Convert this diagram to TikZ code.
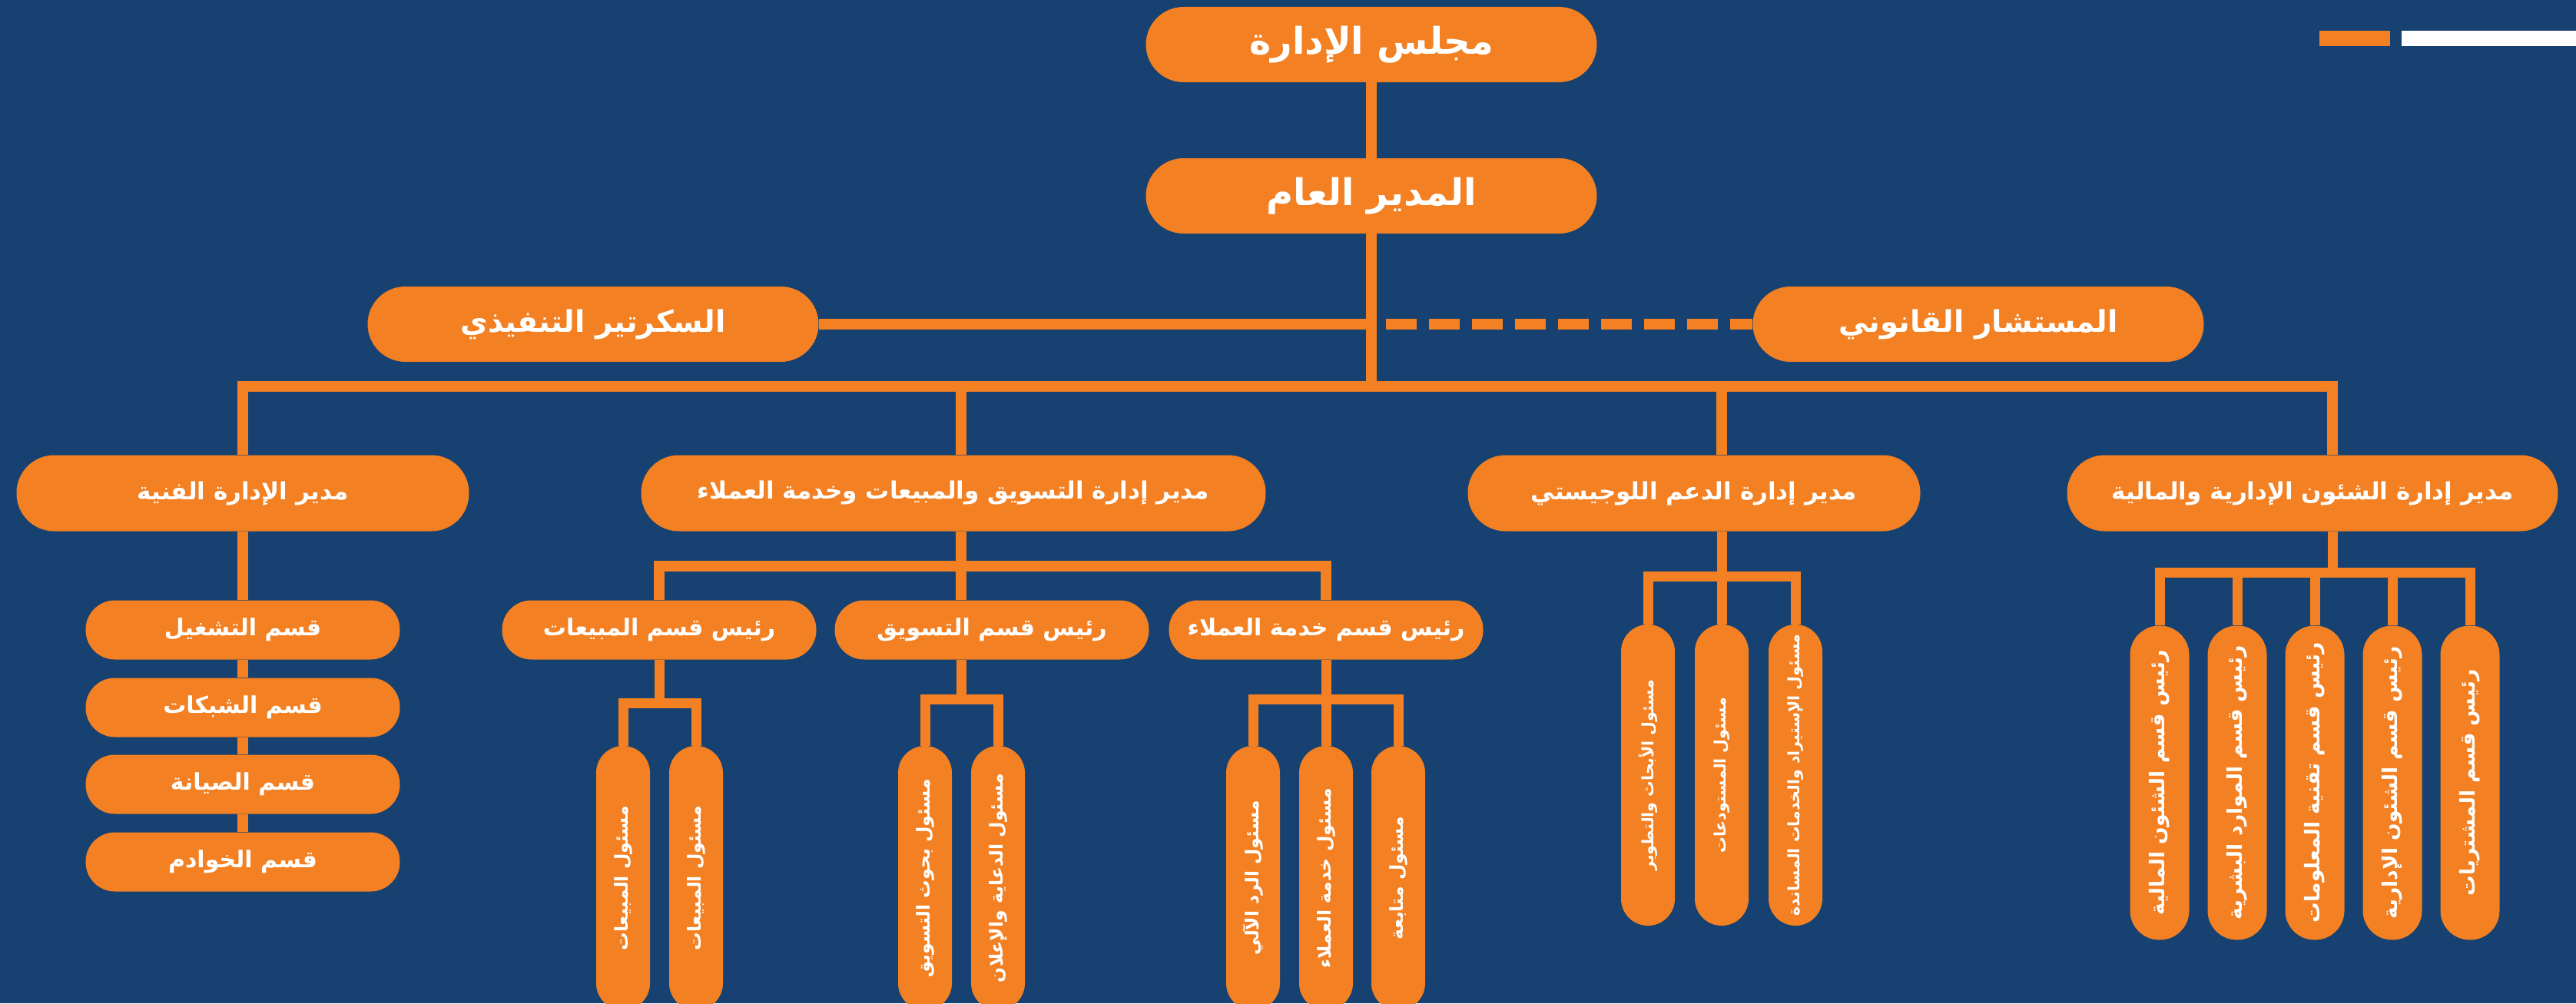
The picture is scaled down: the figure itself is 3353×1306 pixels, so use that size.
\documentclass[tikz,border=0pt]{standalone}
\usepackage{fontspec}
\usepackage{tikz}
\usetikzlibrary{positioning}
\TeXXeTstate=1
\newfontfamily\arabicfont[Script=Arabic]{DejaVu Sans}
\newcommand{\artxt}[1]{\beginR #1\endR}
\definecolor{navy}{RGB}{22,65,112}
\definecolor{tangerine}{RGB}{243,128,34}

\tikzstyle{head} = [rectangle, rounded corners = 49, minimum width = 587,
  minimum height = 98, inner sep = 0, fill = tangerine, text = white,
  font = \arabicfont\bfseries\fontsize{48}{54}\selectfont]
\tikzstyle{aide} = [head, font = \arabicfont\bfseries\fontsize{39}{44}\selectfont]
\tikzstyle{dept} = [
  rectangle, rounded corners = 49,
  minimum width = 589, minimum height = 99, inner sep = 0,
  fill = tangerine, text = white,
  font = \arabicfont\bfseries\fontsize{31}{36}\selectfont
]
\tikzstyle{unit} = [
  rectangle, rounded corners = 38,
  minimum width = 409, minimum height = 77, inner sep = 0,
  fill = tangerine, text = white,
  font = \arabicfont\bfseries\fontsize{30}{35}\selectfont
]
\tikzstyle{pill} = [
  rectangle, rounded corners = 35,
  minimum width = 70, minimum height = 344, inner sep = 0,
  fill = tangerine, text = white,
  font = \arabicfont\bfseries\fontsize{23.5}{27}\selectfont
]
\tikzstyle{link} = [draw = tangerine, line width = 14pt]
\tikzstyle{twig} = [draw = tangerine, line width = 13pt]

\begin{document}
\begin{tikzpicture}[x = 1pt, y = 1pt, node distance = 0]
      \useasboundingbox (0, 0) rectangle (3353, -1306);
      \fill [navy] (0, 0) rectangle (3353, -1306);
      \fill [tangerine] (3019, -40) rectangle (3111, -60);
      \fill [white] (3126, -40) rectangle (3353, -60);

      % board, general manager, secretary, advisor
      \node [head] (head-board) at (1785, -58) {\artxt{مجلس الإدارة}};
      \node [head, below of = head-board, yshift = -197] (head-gm) {\artxt{المدير العام}};
      \node [aide] (head-sec) at (772, -422) {\artxt{السكرتير التنفيذي}};
      \node [aide, right of = head-sec, xshift = 1803] (head-legal) {\artxt{المستشار القانوني}};

      % departments
      \node [dept] (dept-tech) at (316, -642) {\artxt{مدير الإدارة الفنية}};
      \node [dept, right of = dept-tech, xshift = 925, minimum width = 813] (dept-mkt)
        {\artxt{مدير إدارة التسويق والمبيعات وخدمة العملاء}};
      \node [dept, right of = dept-mkt, xshift = 964] (dept-log) {\artxt{مدير إدارة الدعم اللوجيستي}};
      \node [dept, right of = dept-log, xshift = 805, minimum width = 639] (dept-adm)
        {\artxt{مدير إدارة الشئون الإدارية والمالية}};

      % technical sections
      \node [unit] (unit-tech-1) at (316, -820) {\artxt{قسم التشغيل}};
      \node [unit, below of = unit-tech-1, yshift = -101] (unit-tech-2) {\artxt{قسم الشبكات}};
      \node [unit, below of = unit-tech-2, yshift = -100] (unit-tech-3) {\artxt{قسم الصيانة}};
      \node [unit, below of = unit-tech-3, yshift = -101] (unit-tech-4) {\artxt{قسم الخوادم}};

      % marketing heads
      \node [unit] (unit-sales) at (858, -820) {\artxt{رئيس قسم المبيعات}};
      \node [unit, right of = unit-sales, xshift = 433] (unit-mkt) {\artxt{رئيس قسم التسويق}};
      \node [unit, right of = unit-mkt, xshift = 435] (unit-cs) {\artxt{رئيس قسم خدمة العملاء}};

      % officers
      \node [pill] (pill-sales-a) at (811, -1143) {\rotatebox{90}{\artxt{مسئول المبيعات}}};
      \node [pill, right of = pill-sales-a, xshift = 95] (pill-sales-b) {\rotatebox{90}{\artxt{مسئول المبيعات}}};
      \node [pill] (pill-mkt-a) at (1204, -1143) {\rotatebox{90}{\artxt{مسئول بحوث التسويق}}};
      \node [pill, right of = pill-mkt-a, xshift = 95] (pill-mkt-b) {\rotatebox{90}{\artxt{مسئول الدعاية والإعلان}}};
      \node [pill] (pill-cs-a) at (1631, -1143) {\rotatebox{90}{\artxt{مسئول الرد الآلي}}};
      \node [pill, right of = pill-cs-a, xshift = 95] (pill-cs-b) {\rotatebox{90}{\artxt{مسئول خدمة العملاء}}};
      \node [pill, right of = pill-cs-b, xshift = 94] (pill-cs-c) {\rotatebox{90}{\artxt{مسئول متابعة}}};

      % logistics officers
      \node [pill, minimum height = 392, font = \arabicfont\bfseries\fontsize{20.5}{24}\selectfont]
        (pill-log-a) at (2145, -1009) {\rotatebox{90}{\artxt{مسئول الأبحاث والتطوير}}};
      \node [pill, minimum height = 392, font = \arabicfont\bfseries\fontsize{20.5}{24}\selectfont,
        right of = pill-log-a, xshift = 96] (pill-log-b) {\rotatebox{90}{\artxt{مسئول المستودعات}}};
      \node [pill, minimum height = 392, font = \arabicfont\bfseries\fontsize{20.5}{24}\selectfont,
        right of = pill-log-b, xshift = 96] (pill-log-c) {\rotatebox{90}{\artxt{مسئول الإستيراد والخدمات المساندة}}};

      % admin heads
      \node [pill, minimum width = 77, minimum height = 409, rounded corners = 38,
        font = \arabicfont\bfseries\fontsize{26.5}{30}\selectfont]
        (pill-adm-a) at (2811, -1019) {\rotatebox{90}{\artxt{رئيس قسم الشئون المالية}}};
      \node [pill, minimum width = 77, minimum height = 409, rounded corners = 38,
        font = \arabicfont\bfseries\fontsize{26.5}{30}\selectfont,
        right of = pill-adm-a, xshift = 101] (pill-adm-b) {\rotatebox{90}{\artxt{رئيس قسم الموارد البشرية}}};
      \node [pill, minimum width = 77, minimum height = 409, rounded corners = 38,
        font = \arabicfont\bfseries\fontsize{26.5}{30}\selectfont,
        right of = pill-adm-b, xshift = 101] (pill-adm-c) {\rotatebox{90}{\artxt{رئيس قسم تقنية المعلومات}}};
      \node [pill, minimum width = 77, minimum height = 409, rounded corners = 38,
        font = \arabicfont\bfseries\fontsize{26.5}{30}\selectfont,
        right of = pill-adm-c, xshift = 101] (pill-adm-d) {\rotatebox{90}{\artxt{رئيس قسم الشئون الإدارية}}};
      \node [pill, minimum width = 77, minimum height = 409, rounded corners = 38,
        font = \arabicfont\bfseries\fontsize{26.5}{30}\selectfont,
        right of = pill-adm-d, xshift = 101] (pill-adm-e) {\rotatebox{90}{\artxt{رئيس قسم المشتريات}}};

      % junctions
      \coordinate (bus-w) at (316, -503);
      \coordinate (bus-e) at (3036, -503);
      \coordinate (bus-mkt) at (1251, -503);
      \coordinate (bus-log) at (2241, -503);
      \coordinate (j-mkt) at (1251, -737);
      \coordinate (j-sales) at (858, -915);
      \coordinate (j-mktc) at (1251, -910);
      \coordinate (j-cs) at (1726, -910);
      \coordinate (j-log) at (2241, -750);
      \coordinate (j-adm) at (3036, -745);

      \draw [link] (head-board) -- (head-gm);
      \draw [link] (head-gm) -- (head-gm |- bus-w);
      \draw [link] (head-sec) -- (head-sec -| head-gm);
      \draw [link, dash pattern = on 40pt off 16pt, dash phase = 11pt] (head-legal) -- (head-legal -| head-gm);
      \draw [link] (dept-tech) -- (bus-w) -- (bus-e) -- (bus-e |- dept-adm.north);
      \draw [link] (bus-mkt) -- (bus-mkt |- dept-mkt.north);
      \draw [link] (bus-log) -- (bus-log |- dept-log.north);

      \draw [link] (dept-tech) -- (unit-tech-1);
      \foreach \a/\b in {1/2, 2/3, 3/4}
        \draw [link] (unit-tech-\a) -- (unit-tech-\b);

      \draw [link] (dept-mkt.south -| j-mkt) -- (j-mkt);
      \draw [link] (unit-sales) |- (j-mkt) -| (unit-cs);
      \draw [link] (j-mkt) -- (j-mkt |- unit-mkt.north);

      \draw [twig] (unit-sales) -- (j-sales);
      \draw [twig] (pill-sales-a) |- (j-sales) -| (pill-sales-b);
      \draw [twig] (j-mktc |- unit-mkt.south) -- (j-mktc);
      \draw [twig] (pill-mkt-a) |- (j-mktc) -| (pill-mkt-b);
      \draw [twig] (unit-cs) -- (pill-cs-b);
      \draw [twig] (pill-cs-a) |- (j-cs) -| (pill-cs-c);

      \draw [twig] (dept-log.south -| j-log) -- (pill-log-b);
      \draw [twig] (pill-log-a) |- (j-log) -| (pill-log-c);

      \draw [twig] (dept-adm.south -| j-adm) -- (j-adm);
      \draw [twig] (pill-adm-a) |- (j-adm) -| (pill-adm-e);
      \foreach \k in {b, c, d}
        \draw [twig] (pill-adm-\k) -- (pill-adm-\k |- j-adm);
    \end{tikzpicture}
\end{document}
